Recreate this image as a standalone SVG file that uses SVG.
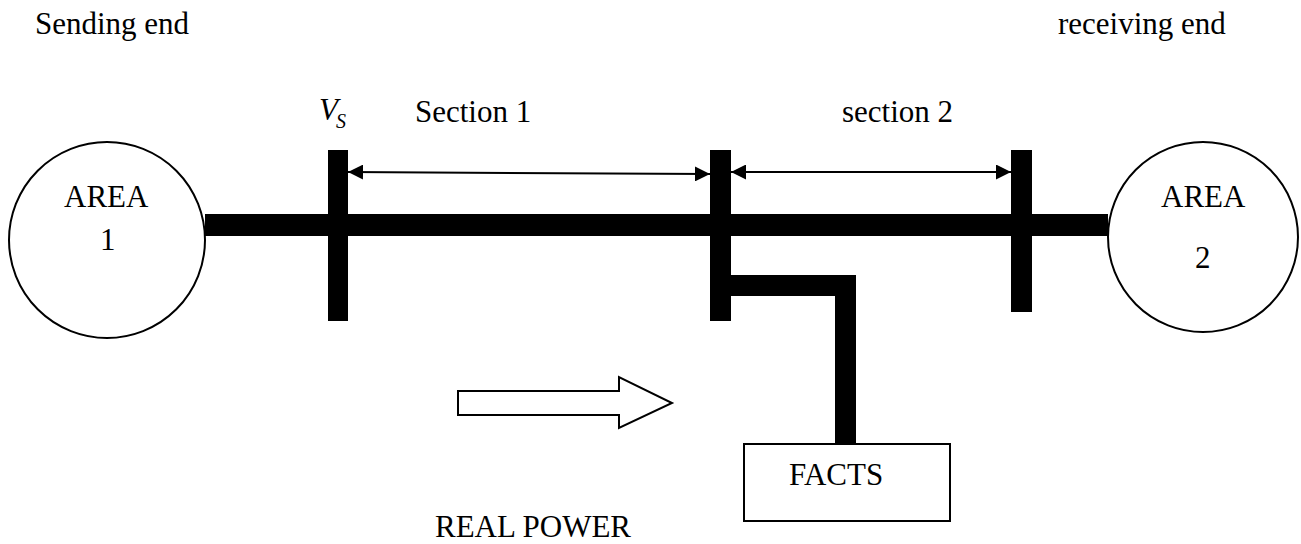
<svg xmlns="http://www.w3.org/2000/svg" width="1301" height="544" viewBox="0 0 1301 544">
<style>
text{font-family:"Liberation Serif","Times New Roman",serif;font-size:31px;fill:#000}
.node{fill:#fff;stroke:#000;stroke-width:2}
.bar{fill:#000}
.dim{stroke:#000;stroke-width:2;fill:none}
</style>
<defs>
<marker id="ah" viewBox="0 0 15 15" refX="15" refY="7.5" markerWidth="15" markerHeight="15" markerUnits="userSpaceOnUse" orient="auto-start-reverse">
<path d="M0,0 L15,7.5 L0,15 Z" fill="#000"/>
</marker>
</defs>
<rect width="1301" height="544" fill="#fff"/>
<g id="labels">
<text x="35" y="34">Sending end</text>
<text x="1058" y="34">receiving end</text>
<text x="319" y="120" font-style="italic">V<tspan font-size="20" dx="-2" dy="8">S</tspan></text>
<text x="415" y="122">Section 1</text>
<text x="842" y="122">section 2</text>
<text x="435" y="537">REAL POWER</text>
</g>
<g id="connectors">
<rect class="bar" x="205" y="214" width="903" height="22"/>
<rect class="bar" x="731" y="275" width="125" height="21"/>
<rect class="bar" x="835" y="275" width="21" height="169"/>
<line class="dim" x1="348" y1="172" x2="710" y2="174" marker-start="url(#ah)" marker-end="url(#ah)"/>
<line class="dim" x1="731" y1="172" x2="1011" y2="172" marker-start="url(#ah)" marker-end="url(#ah)"/>
<polygon class="node" stroke-width="1.5" points="458,391 619,391 619,377 672,403 619,428 619,415 458,415"/>
</g>
<g id="area1">
<circle class="node" cx="107" cy="240" r="98"/>
<text x="64" y="207">AREA</text>
<text x="100" y="250">1</text>
</g>
<g id="area2">
<circle class="node" cx="1203" cy="237" r="95"/>
<text x="1161" y="207">AREA</text>
<text x="1195" y="268">2</text>
</g>
<g id="bus1"><rect class="bar" x="328" y="150" width="20" height="171"/></g>
<g id="bus2"><rect class="bar" x="710" y="150" width="21" height="171"/></g>
<g id="bus3"><rect class="bar" x="1011" y="150" width="21" height="162"/></g>
<g id="facts">
<rect class="node" x="744" y="444" width="206" height="77"/>
<text x="789" y="485">FACTS</text>
</g>
</svg>
